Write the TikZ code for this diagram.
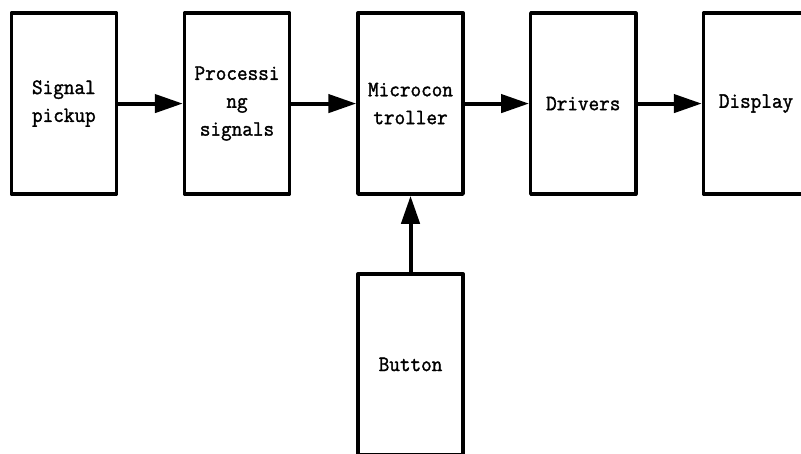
\documentclass[tikz,border=0pt]{standalone}
\usepackage{fontspec}
\newfontfamily\blockfont{Latin Modern Mono}[FakeBold=1.5, FakeStretch=0.94]
\usepackage{tikz}
\usetikzlibrary{arrows.meta,positioning}

\begin{document}
\begin{tikzpicture}[
    block/.style={rectangle, draw=black, line width=2.6pt, line join=round, fill=white, minimum width=2.78cm, minimum height=4.79cm, align=center, font=\blockfont\bfseries\fontsize{16.5}{21}\selectfont},
    flow/.style={line width=3pt, -{Triangle[length=0.74cm, width=0.48cm]}}
]
    % page
    \clip (0,0) rectangle (21.19,-12.01);

    % top row
    \node[block] (pickup) at (1.69,-2.74) {Signal\\pickup};
    \node[block] (proc) at (6.27,-2.74) {Processi\\ng\\signals};
    \node[block] (mcu) at (10.86,-2.74) {Microcon\\troller};
    \node[block] (drv) at (15.43,-2.74) {Drivers};
    \node[block] (disp) at (20.0,-2.74) {Display};

    % input below
    \node[block] (btn) at (10.86,-9.64) {Button};

    % Arrows
    \draw[flow] (pickup) -- (proc);
    \draw[flow] (proc) -- (mcu);
    \draw[flow] (mcu) -- (drv);
    \draw[flow] (drv) -- (disp);
    \draw[flow] (btn) -- (mcu);
\end{tikzpicture}
\end{document}
